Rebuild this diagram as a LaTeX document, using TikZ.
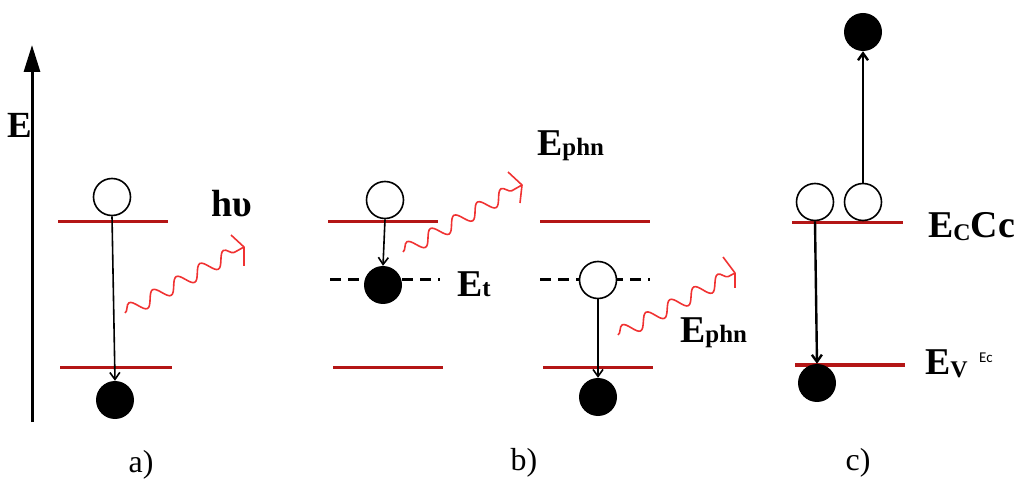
\documentclass[tikz,border=0pt]{standalone}
\usepackage{fontspec}
\setmainfont{Liberation Serif}
\newfontfamily\calibrifont{Carlito}
\usetikzlibrary{arrows.meta,decorations.pathmorphing}
\definecolor{lvlred}{RGB}{180,22,22}
\definecolor{wavered}{RGB}{240,50,50}
\begin{document}
\begin{tikzpicture}[x=1bp,y=-1bp,
  level/.style={draw=lvlred, line width=3bp},
  dashlevel/.style={draw=black, line width=3bp, dash pattern=on 11bp off 7bp},
  hole/.style={circle, draw=black, line width=1.6bp, fill=white, minimum size=37bp, inner sep=0pt},
  elec/.style={circle, fill=black, minimum size=38bp, inner sep=0pt},
  trans/.style={draw=black, line width=1.6bp, -{Straight Barb[length=7bp,width=10bp]}},
  photon/.style={draw=wavered, line width=1.6bp, decorate, decoration={snake, segment length=27bp, amplitude=7bp}},
  hookline/.style={draw=wavered, line width=1.6bp, line join=round},
  lbl/.style={font=\bfseries\fontsize{38}{42}\selectfont, inner sep=0pt, anchor=base west},
  capt/.style={font=\fontsize{32}{34}\selectfont, inner sep=0pt}
]
\useasboundingbox (0,0) rectangle (1017,479);

% energy axis
\node[font=\bfseries\fontsize{37}{40}\selectfont, inner sep=0pt] (Elab) at (20,125) {E};
\coordinate (ax0) at (32,422);
\coordinate (ax1) at (32,45);
\draw[line width=3bp, -{Triangle[length=27bp,width=16bp]}] (ax0) -- (ax1);

% ---------- panel a ----------
\coordinate (a1l) at (58,222); \coordinate (a1r) at (168,222);
\coordinate (a2l) at (60,367); \coordinate (a2r) at (172,367);
\draw[level] (a1l) -- (a1r);
\draw[level] (a2l) -- (a2r);
\node[hole] (ah) at (112,197) {};
\node[elec] (ae) at (115,400) {};
\draw[trans] (ah.south) -- (ae.north);
\coordinate (wa0) at (125,313); \coordinate (wa1) at (244,247);
\coordinate (wa2) at (231,235); \coordinate (wa3) at (244,266);
\draw[photon] (wa0) -- (wa1);
\draw[hookline] (wa2) -- (wa1) -- (wa3);
\node[lbl] (hv) at (211,217) {hυ};

% ---------- panel b, left ----------
\coordinate (b1l) at (328,222); \coordinate (b1r) at (438,222);
\coordinate (b2l) at (330,280); \coordinate (b2r) at (440,280);
\coordinate (b3l) at (333,367); \coordinate (b3r) at (443,367);
\draw[level] (b1l) -- (b1r);
\draw[dashlevel] (b2l) -- (b2r);
\draw[level] (b3l) -- (b3r);
\node[hole] (bh) at (385,200) {};
\node[elec] (be) at (383,285) {};
\draw[trans] (bh.south) -- (be.north);
\coordinate (wb0) at (403,252); \coordinate (wb1) at (522,185);
\coordinate (wb2) at (508,172); \coordinate (wb3) at (520,203);
\draw[photon] (wb0) -- (wb1);
\draw[hookline] (wb2) -- (wb1) -- (wb3);
\node[lbl] (ephn1) at (537,156) {E\fontsize{25}{27}\selectfont phn};
\node[lbl] (et) at (457,297) {E\fontsize{25}{27}\selectfont t};

% ---------- panel b, right ----------
\coordinate (c1l) at (540,222); \coordinate (c1r) at (650,222);
\coordinate (c2l) at (540,280); \coordinate (c2r) at (650,280);
\coordinate (c3l) at (543,367); \coordinate (c3r) at (653,367);
\draw[level] (c1l) -- (c1r);
\draw[dashlevel] (c2l) -- (c2r);
\draw[level] (c3l) -- (c3r);
\node[hole] (ch) at (598,280) {};
\node[elec] (ce) at (598,397) {};
\draw[trans] (ch.south) -- (ce.north);
\coordinate (wc0) at (618,335); \coordinate (wc1) at (735,273);
\coordinate (wc2) at (723,257); \coordinate (wc3) at (735,288);
\draw[photon] (wc0) -- (wc1);
\draw[hookline] (wc2) -- (wc1) -- (wc3);
\node[lbl] (ephn2) at (680,343) {E\fontsize{25}{27}\selectfont phn};

% ---------- panel c ----------
\coordinate (d1l) at (792,223); \coordinate (d1r) at (903,223);
\coordinate (d2l) at (795,365); \coordinate (d2r) at (905,365);
\draw[level] (d1l) -- (d1r);
\draw[level, line width=4bp] (d2l) -- (d2r);
\node[hole] (dh1) at (815,202) {};
\node[hole] (dh2) at (863,202) {};
\node[elec] (det) at (863,32) {};
\node[elec] (deb) at (817,383) {};
\draw[trans, line width=2.4bp] (dh2.north) -- (det.south);
\draw[trans, line width=2.4bp] (dh1.south) -- (deb.north);
\node[lbl] (ec) at (928,238) {E\raisebox{-3bp}{\fontsize{24}{26}\selectfont C}Cc};
\node[lbl] (ev) at (925,375) {E\raisebox{-3bp}{\fontsize{24}{26}\selectfont V}};
\node[font=\calibrifont\fontsize{15}{16}\selectfont, inner sep=0pt, anchor=base west] (ecs) at (979,363) {Ec};

% captions
\node[capt] (capa) at (141,465) {a)};
\node[capt] (capb) at (524,463) {b)};
\node[capt] (capc) at (858,463) {c)};
\end{tikzpicture}
\end{document}
